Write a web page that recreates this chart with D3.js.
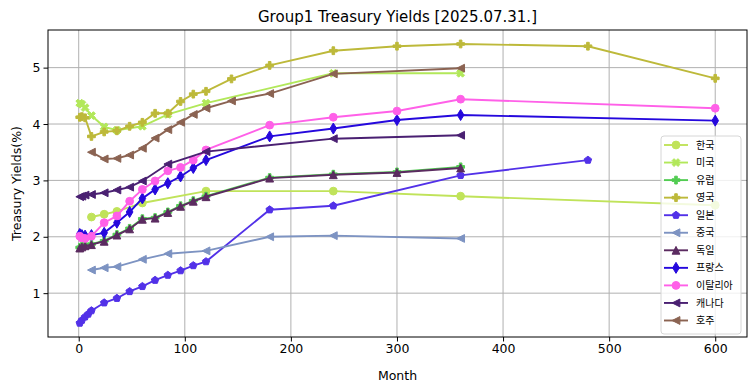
<!DOCTYPE html>
<html><head><meta charset="utf-8">
<script src="https://cdn.jsdelivr.net/npm/d3@7"></script>
<style>body{margin:0;background:#fff}svg{display:block}</style>
</head><body><svg id="c" width="755" height="391"></svg>
<script>
const seriesNames = ["한국","미국","유럽","영국","일본","중국","독일","프랑스","이탈리아","캐나다","호주"];
const seriesColors = ["#c0e35a","#b2e85a","#52cc52","#bdb93a","#5231e8","#7d93c2","#5b2b60","#2508dd","#ff60e8","#4a2072","#8b6352"];
const seriesMarkers = ["o","X","P","P","p","<","^","d","o","<","<"];

const krMonths = [12,24,36,60,120,240,360,600];
const krYields = [2.35,2.40,2.45,2.60,2.81,2.81,2.72,2.56];
const usMonths = [1,3,6,12,24,36,60,84,120,240,360];
const usYields = [4.37,4.35,4.29,4.15,3.95,3.89,3.96,4.17,4.37,4.90,4.90];
const euMonths = [1,3,6,12,24,36,48,60,72,84,96,108,120,180,240,300,360];
const euYields = [1.81,1.83,1.85,1.87,1.93,2.04,2.15,2.32,2.34,2.44,2.55,2.64,2.72,3.05,3.11,3.15,3.24];
const ukMonths = [1,3,6,12,24,36,48,60,72,84,96,108,120,144,180,240,300,360,480,600];
const ukYields = [4.12,4.13,4.11,3.78,3.86,3.88,3.96,4.03,4.19,4.19,4.40,4.53,4.58,4.80,5.04,5.30,5.38,5.42,5.38,4.81];
const jpMonths = [1,3,6,9,12,24,36,48,60,72,84,96,108,120,180,240,360,480];
const jpYields = [0.47,0.52,0.58,0.63,0.69,0.83,0.91,1.03,1.12,1.23,1.32,1.40,1.49,1.56,2.48,2.55,3.09,3.36];
const cnMonths = [12,24,36,60,84,120,180,240,360];
const cnYields = [1.41,1.45,1.47,1.60,1.70,1.75,2.00,2.02,1.97];
const deMonths = [1,3,6,12,24,36,48,60,72,84,96,108,120,180,240,300,360];
const deYields = [1.80,1.82,1.84,1.86,1.92,2.03,2.14,2.31,2.33,2.43,2.54,2.63,2.71,3.04,3.10,3.14,3.22];
const frMonths = [1,3,6,12,24,36,48,60,72,84,96,108,120,180,240,300,360,600];
const frYields = [2.05,2.03,2.02,2.03,2.07,2.25,2.44,2.68,2.84,2.95,3.07,3.22,3.36,3.78,3.92,4.07,4.16,4.06];
const itMonths = [1,3,6,12,24,36,48,60,72,84,96,108,120,180,240,300,360,600];
const itYields = [2.01,1.98,1.97,2.01,2.25,2.37,2.63,2.84,2.99,3.17,3.23,3.36,3.54,3.98,4.12,4.23,4.44,4.28];
const caMonths = [1,3,6,12,24,36,48,60,84,120,240,360];
const caYields = [2.71,2.72,2.74,2.75,2.78,2.83,2.88,2.99,3.29,3.51,3.74,3.80];
const auMonths = [12,24,36,48,60,72,84,96,108,120,144,180,240,360];
const auYields = [3.50,3.38,3.39,3.45,3.57,3.75,3.90,4.03,4.17,4.28,4.41,4.54,4.89,4.99];

const xTicks = [0,100,200,300,400,500,600];
const yTicks = [1,2,3,4,5];
const titleText = "Group1 Treasury Yields [2025.07.31.]";
const xLabel = "Month", yLabel = "Treasury Yields(%)";

const allMonths = [krMonths,usMonths,euMonths,ukMonths,jpMonths,cnMonths,deMonths,frMonths,itMonths,caMonths,auMonths];
const allYields = [krYields,usYields,euYields,ukYields,jpYields,cnYields,deYields,frYields,itYields,caYields,auYields];
const series = seriesNames.map((n,i)=>({name:n,color:seriesColors[i],marker:seriesMarkers[i],
  pts:allMonths[i].map((m,j)=>({x:m,y:allYields[i][j]}))}));

const L=48,R=747,T=30,B=337;
const svg=d3.select("#c");
const xs=d3.extent(series.flatMap(s=>s.pts.map(p=>p.x)));
const ys=d3.extent(series.flatMap(s=>s.pts.map(p=>p.y)));
const xp=(xs[1]-xs[0])*0.05, yp=(ys[1]-ys[0])*0.05;
const x=d3.scaleLinear().domain([xs[0]-xp,xs[1]+xp]).range([L,R]);
const y=d3.scaleLinear().domain([ys[0]-yp,ys[1]+yp]).range([B,T]);

const font="DejaVu Sans, sans-serif";
// grid
const g=svg.append("g");
g.selectAll(".gx").data(xTicks).enter().append("line").attr("x1",d=>x(d)).attr("x2",d=>x(d)).attr("y1",T).attr("y2",B).attr("stroke","#b0b0b0").attr("stroke-width",1);
g.selectAll(".gy").data(yTicks).enter().append("line").attr("y1",d=>y(d)).attr("y2",d=>y(d)).attr("x1",L).attr("x2",R).attr("stroke","#b0b0b0").attr("stroke-width",1);

function markerPath(type,s){
  const h=s/2;
  const poly=pts=>"M"+pts.map(p=>p[0].toFixed(2)+","+p[1].toFixed(2)).join("L")+"Z";
  switch(type){
    case "o": return d3.symbol(d3.symbolCircle, Math.PI*h*h)();
    case "^": return poly([[0,-h],[-h,h],[h,h]]);
    case "<": return poly([[-h,0],[h,-h],[h,h]]);
    case "p": { const p=[]; for(let k=0;k<5;k++){const a=-Math.PI/2+k*2*Math.PI/5;p.push([h*Math.cos(a),h*Math.sin(a)]);} return poly(p);}
    case "d": { const dd=s*0.7071; return poly([[0,-dd],[0.6*dd,0],[0,dd],[-0.6*dd,0]]);}
    case "P": { const q=[[-1,-3],[-1,-1],[-3,-1],[-3,1],[-1,1],[-1,3],[1,3],[1,1],[3,1],[3,-1],[1,-1],[1,-3]].map(p=>[p[0]*s/6,p[1]*s/6]); return poly(q);}
    case "X": { const q=[[-1,-2],[0,-1],[1,-2],[2,-1],[1,0],[2,1],[1,2],[0,1],[-1,2],[-2,1],[-1,0],[-2,-1]].map(p=>[p[0]*s/4,p[1]*s/4]); return poly(q);}
  }
}
const MS=7.8;
const line=d3.line().x(d=>x(d.x)).y(d=>y(d.y));
const plot=svg.append("g");
series.forEach(s=>{
  const gg=plot.append("g");
  gg.append("path").attr("d",line(s.pts)).attr("fill","none").attr("stroke",s.color).attr("stroke-width",1.9);
  gg.selectAll("path.m").data(s.pts).enter().append("path").attr("class","m")
    .attr("d",markerPath(s.marker,MS)).attr("transform",d=>`translate(${x(d.x)},${y(d.y)})`)
    .attr("fill",s.color).attr("stroke",s.color).attr("stroke-width",1);
});
// frame
svg.append("rect").attr("x",L).attr("y",T).attr("width",R-L).attr("height",B-T).attr("fill","none").attr("stroke","#000").attr("stroke-width",1);
// axes ticks
const xa=svg.append("g").attr("transform",`translate(0,${B})`).call(d3.axisBottom(x).tickValues(xTicks).tickSize(4.5).tickPadding(3).tickFormat(d3.format("d")));
const ya=svg.append("g").attr("transform",`translate(${L},0)`).call(d3.axisLeft(y).tickValues(yTicks).tickSize(4.5).tickPadding(3).tickFormat(d3.format("d")));
[xa,ya].forEach(a=>{a.select(".domain").remove();a.selectAll("text").attr("font-family",font).attr("font-size",12.5).attr("fill","#000");a.selectAll("line").attr("stroke","#000");});
// labels
svg.append("text").attr("x",(L+R)/2).attr("y",22).attr("text-anchor","middle").attr("font-family",font).attr("font-size",15).text(titleText);
svg.append("text").attr("x",(L+R)/2).attr("y",380).attr("text-anchor","middle").attr("font-family",font).attr("font-size",12.5).text(xLabel);
svg.append("text").attr("transform",`translate(21,${(T+B)/2}) rotate(-90)`).attr("text-anchor","middle").attr("font-family",font).attr("font-size",12.5).text(yLabel);
// legend
const lg=svg.append("g");
lg.append("rect").attr("x",661).attr("y",136).attr("width",80).attr("height",198).attr("rx",3)
  .attr("fill","#fff").attr("fill-opacity",0.8).attr("stroke","#d6d6d6").attr("stroke-width",1);
series.forEach((s,i)=>{
  const yy=145+i*17.55;
  lg.append("line").attr("x1",664).attr("x2",688).attr("y1",yy).attr("y2",yy).attr("stroke",s.color).attr("stroke-width",1.9);
  lg.append("path").attr("d",markerPath(s.marker,MS)).attr("transform",`translate(676,${yy})`).attr("fill",s.color).attr("stroke",s.color).attr("stroke-width",1);
  lg.append("text").attr("x",696).attr("y",yy+3.6).attr("font-family","Noto Sans CJK KR, sans-serif").attr("font-size",10).text(s.name);
});
</script></body></html>
